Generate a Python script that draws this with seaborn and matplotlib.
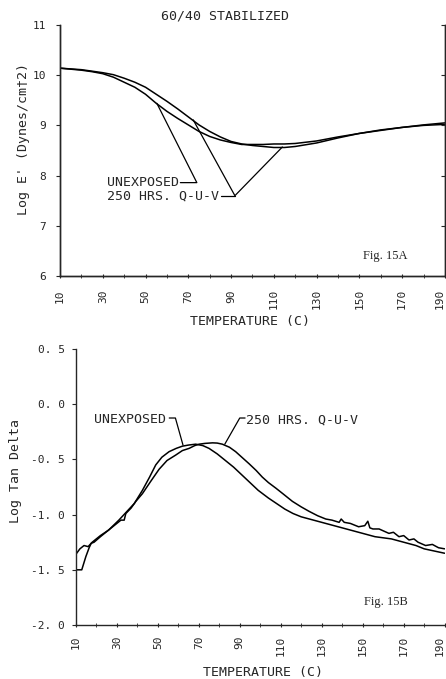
import matplotlib
matplotlib.use("Agg")
import matplotlib.pyplot as plt
import seaborn as sns

# Fig. 15A - storage modulus
temp_e = [10, 20, 25, 30, 35, 40, 45, 50, 55, 60, 65, 70, 75, 80, 85, 90, 95, 100,
          105, 110, 115, 120, 130, 140, 150, 160, 170, 180, 190]
unexposed_e = [10.14, 10.10, 10.07, 10.03, 9.96, 9.86, 9.76, 9.62, 9.44, 9.28, 9.14, 9.01,
               8.88, 8.78, 8.71, 8.66, 8.62, 8.62, 8.62, 8.63, 8.63, 8.64, 8.69, 8.77,
               8.84, 8.90, 8.96, 9.00, 9.02]
quv_e = [10.14, 10.11, 10.08, 10.05, 10.01, 9.94, 9.86, 9.76, 9.62, 9.48, 9.33, 9.17,
         9.01, 8.88, 8.77, 8.68, 8.63, 8.60, 8.58, 8.56, 8.56, 8.58, 8.65, 8.75,
         8.84, 8.91, 8.96, 9.01, 9.05]

# Fig. 15B - tan delta
temp_d_unexp = [10, 12, 14, 16, 18, 22, 26, 31, 35, 38.5, 42.5, 46, 49, 52, 55.5, 59, 62,
                65, 68.5, 72, 75, 79, 83, 87, 91, 95, 99, 104, 108, 112, 116, 120, 124,
                128, 132, 136, 140, 144, 148, 152, 156, 160, 164, 168, 172, 176, 180,
                185, 190]
unexposed_d = [-1.36, -1.31, -1.28, -1.29, -1.25, -1.19, -1.14, -1.05, -0.97, -0.90, -0.78,
               -0.66, -0.55, -0.48, -0.43, -0.40, -0.38, -0.37, -0.362, -0.375, -0.40,
               -0.45, -0.51, -0.57, -0.64, -0.71, -0.78, -0.85, -0.90, -0.95, -0.99,
               -1.02, -1.04, -1.06, -1.08, -1.10, -1.12, -1.14, -1.16, -1.18, -1.20,
               -1.21, -1.22, -1.24, -1.26, -1.28, -1.31, -1.33, -1.35]
temp_d_quv = [10, 12.9, 14.9, 16.5, 17.5, 18.9, 22, 26, 30, 32, 33.6, 34.4, 37, 39.3, 42.5,
              46.5, 50.6, 54.5, 58.8, 62, 65.3, 68, 70.2, 73, 76.7, 79, 81.5, 85, 88, 91,
              94.6, 98, 101, 104, 107.6, 111, 115.7, 120, 123.8, 128, 132, 135, 138.5,
              139.5, 141, 144, 148, 151, 152.5, 153.5, 155, 158, 162.8, 165, 167.7, 170,
              172.6, 175, 177, 180.7, 184, 187, 190]
quv_d = [-1.50, -1.50, -1.38, -1.30, -1.26, -1.25, -1.20, -1.14, -1.08, -1.05, -1.05, -0.99,
         -0.94, -0.88, -0.81, -0.70, -0.59, -0.51, -0.46, -0.42, -0.40, -0.375, -0.362,
         -0.355, -0.35, -0.352, -0.362, -0.39, -0.43, -0.48, -0.54, -0.60, -0.66, -0.71,
         -0.76, -0.81, -0.88, -0.93, -0.97, -1.01, -1.04, -1.05, -1.07, -1.04, -1.07,
         -1.08, -1.11, -1.10, -1.06, -1.12, -1.13, -1.13, -1.17, -1.16, -1.20, -1.19,
         -1.23, -1.22, -1.25, -1.28, -1.27, -1.30, -1.31]

x_ticks = [10, 30, 50, 70, 90, 110, 130, 150, 170, 190]
e_ticks = [6, 7, 8, 9, 10, 11]
d_ticks = [-2.0, -1.5, -1.0, -0.5, 0.0, 0.5]
d_tick_labels = ["-2. 0", "-1. 5", "-1. 0", "-0. 5", "0. 0", "0. 5"]

sns.set_style("ticks")
plt.rcParams["font.family"] = ["DejaVu Sans Mono", "DejaVu Sans"]
plt.rcParams["axes.linewidth"] = 1.0

fig = plt.figure(figsize=(4.46, 6.79), dpi=100)
ax1 = fig.add_axes([0.1345, 0.5935, 0.863, 0.3697])
ax2 = fig.add_axes([0.170, 0.0795, 0.827, 0.4065])

lw = 1.1
sns.lineplot(x=temp_e, y=unexposed_e, ax=ax1, color="black", lw=lw)
sns.lineplot(x=temp_e, y=quv_e, ax=ax1, color="black", lw=lw)
sns.lineplot(x=temp_d_unexp, y=unexposed_d, ax=ax2, color="black", lw=lw)
sns.lineplot(x=temp_d_quv, y=quv_d, ax=ax2, color="black", lw=lw)

fs = 9.5
for ax in (ax1, ax2):
    ax.set_xlim(10, 190)
    ax.set_xticks(x_ticks)
    ax.set_xticks(range(20, 190, 20), minor=True)
    ax.set_xticklabels([str(t) for t in x_ticks], rotation=90, fontsize=8)
    # keep the last label inside the figure
    ax.get_xticklabels()[-1].set_ha("right")
    ax.tick_params(axis="x", which="both", direction="inout", length=3, pad=8)
    ax.tick_params(axis="y", direction="out", length=3, labelsize=8)
    ax.spines["top"].set_visible(False)
    ax.set_xlabel("")
    ax.set_ylabel("")

# top panel
ax1.set_ylim(6, 11)
ax1.set_yticks(e_ticks)
ax1.set_yticklabels([str(t) for t in e_ticks])
ax1.tick_params(axis="y", pad=7)
axr = ax1.twinx()
axr.set_ylim(6, 11)
axr.set_yticks(e_ticks)
axr.tick_params(axis="y", direction="in", length=3, labelright=False)
axr.spines["top"].set_visible(False)

ann = dict(color="black", lw=0.9)
ax1.text(32, 7.86, "UNEXPOSED", fontsize=fs, va="center")
ax1.plot([66.3, 74, 55.3], [7.86, 7.86, 9.44], **ann)
ax1.text(32, 7.6, "250 HRS. Q-U-V", fontsize=fs, va="center")
ax1.plot([72.3, 91.8, 114], [9.11, 7.6, 8.57], **ann)
ax1.plot([85.2, 91.8], [7.6, 7.6], **ann)
ax1.text(0.787, 0.068, "Fig. 15A", transform=ax1.transAxes, fontsize=9,
         family="Liberation Serif")

# bottom panel
ax2.set_ylim(-2.0, 0.5)
ax2.set_yticks(d_ticks)
ax2.set_yticklabels(d_tick_labels)
ax2.tick_params(axis="y", pad=5)
ax2.tick_params(axis="x", pad=6)
ax2.spines["right"].set_visible(False)

ax2.text(19, -0.14, "UNEXPOSED", fontsize=fs, va="center")
ax2.plot([55.6, 58.6, 62.3], [-0.125, -0.125, -0.37], **ann)
ax2.text(93, -0.14, "250 HRS. Q-U-V", fontsize=fs, va="center")
ax2.plot([92.6, 90, 82.7], [-0.125, -0.125, -0.362], **ann)
ax2.text(0.78, 0.072, "Fig. 15B", transform=ax2.transAxes, fontsize=9,
         family="Liberation Serif")

# titles and axis labels
fig.text(0.504, 0.976, "60/40 STABILIZED", ha="center", va="center", fontsize=fs)
fig.text(0.56, 0.527, "TEMPERATURE (C)", ha="center", va="center", fontsize=fs)
fig.text(0.052, 0.795, "Log E' (Dynes/cm\u20202)", ha="center", va="center",
         rotation=90, fontsize=fs)
fig.text(0.59, 0.009, "TEMPERATURE (C)", ha="center", va="center", fontsize=fs)
fig.text(0.034, 0.306, "Log Tan Delta", ha="center", va="center",
         rotation=90, fontsize=fs)

fig.savefig("out.png", dpi=100)
